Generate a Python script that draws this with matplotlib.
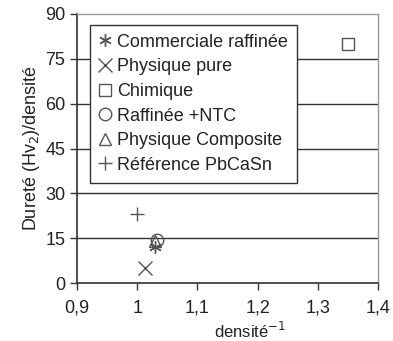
import matplotlib
matplotlib.use("Agg")
import matplotlib.pyplot as plt
from matplotlib.ticker import FuncFormatter

plt.rcParams['font.family'] = ['Liberation Sans', 'DejaVu Sans']

# data
labels = ['Commerciale raffinée', 'Physique pure', 'Chimique',
          'Raffinée +NTC', 'Physique Composite', 'Référence PbCaSn']
x_vals = [1.03, 1.013, 1.35, 1.033, 1.03, 1.0]
y_vals = [12.0, 5.0, 80.0, 14.5, 14.0, 23.0]
markers = [(6, 2, 0), 'x', 's', 'o', '^', '+']
sizes = [9, 10, 9, 9, 9, 10]

xticks = [0.9, 1.0, 1.1, 1.2, 1.3, 1.4]
yticks = [0, 15, 30, 45, 60, 75, 90]

fig = plt.figure(figsize=(3.93, 3.41), dpi=100)
ax = fig.add_axes([0.196, 0.170, 0.766, 0.789])

gc = '#555555'
for yt in yticks[1:-1]:
    ax.axhline(yt, color='#333333', lw=1.0, zorder=1)

for lab, xv, yv, mk, s in zip(labels, x_vals, y_vals, markers, sizes):
    ax.plot([xv], [yv], linestyle='none', marker=mk, markersize=s,
            markerfacecolor='none', markeredgecolor=gc, markeredgewidth=1.0,
            label=lab, zorder=3)

ax.set_xlim(0.9, 1.4)
ax.set_ylim(0, 90)
ax.set_xticks(xticks)
ax.set_yticks(yticks)
fmt = FuncFormatter(lambda v, p: ('%g' % v).replace('.', ','))
ax.xaxis.set_major_formatter(fmt)
ax.tick_params(axis='both', direction='out', length=5, width=1.0,
               color='#333333', labelsize=13, labelcolor='#222222')
ax.tick_params(axis='x', pad=7)

for side in ['left', 'bottom']:
    ax.spines[side].set_color('#333333')
    ax.spines[side].set_linewidth(1.2)
for side in ['top', 'right']:
    ax.spines[side].set_color('#999999')
    ax.spines[side].set_linewidth(1.0)

ax.set_xlabel('densité$^{-1}$', fontsize=12, color='#222222')
ax.xaxis.set_label_coords(0.575, -0.14)
ax.set_ylabel('Dureté (Hv$_2$)/densité', fontsize=13, color='#222222', labelpad=2)

leg = ax.legend(loc='upper left', bbox_to_anchor=(0.043, 0.96), fontsize=13,
                frameon=True, fancybox=False, handlelength=0.7, handletextpad=0.3,
                borderpad=0.5, labelspacing=0.42, borderaxespad=0.0)
leg.get_frame().set_edgecolor('#333333')
leg.get_frame().set_linewidth(1.0)
leg.get_frame().set_alpha(1.0)
for t in leg.get_texts():
    t.set_color('#222222')

fig.savefig('out.png', dpi=100)
